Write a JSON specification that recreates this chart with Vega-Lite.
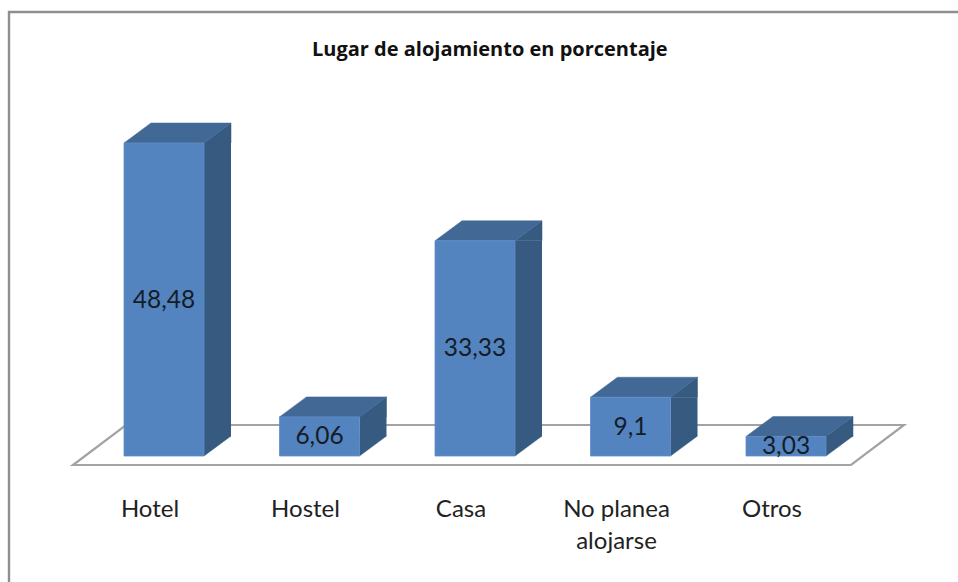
{
"$schema":"https://vega.github.io/schema/vega-lite/v6.json",
"width":958,"height":582,"padding":0,"autosize":{"type":"none"},
"background":"#ffffff",
"view":{"stroke":null},
"title":{"text":"Lugar de alojamiento en porcentaje","font":"Open Sans","fontSize":20,"fontWeight":"bold","color":"#111111","anchor":"start","frame":"group","dx":312,"dy":60,"offset":0},
"data":{"values":[
{"cat":"Hotel","valor":48.48,"etiqueta":"48,48"},
{"cat":"Hostel","valor":6.06,"etiqueta":"6,06"},
{"cat":"Casa","valor":33.33,"etiqueta":"33,33"},
{"cat":"No planea alojarse","valor":9.1,"etiqueta":"9,1"},
{"cat":"Otros","valor":3.03,"etiqueta":"3,03"}
]},
"encoding":{
"x":{"field":"cat","type":"nominal","sort":null,"title":null,
 "scale":{"type":"band","domain":["Hotel","Hostel","Casa","No planea alojarse","Otros"],"range":[86.25,863.75],"paddingInner":0,"paddingOuter":0},
 "axis":{"domain":false,"ticks":false,"labelAngle":0,"offset":-85,"labelPadding":0,"labelOffset":-14,"labelFont":"Lato","labelFontSize":24,"labelColor":"#222222","labelBaseline":"top","labelLineHeight":32,"labelLimit":300,"grid":false,"labelExpr":"datum.label == 'No planea alojarse' ? ['No planea','alojarse'] : datum.label"}},
"y":{"field":"valor","type":"quantitative","title":null,"axis":null,"scale":{"domain":[0,48.48],"range":[456,143],"nice":false,"zero":false}}
},
"layer":[
{"data":{"values":[{"cat":"Hotel","valor":0}]},
 "mark":{"type":"point","shape":"M-155,126L-155,-444L794,-444","size":4,"filled":false,"fill":null,"stroke":"#8f8f8f","strokeWidth":2.4,"opacity":1}},
{"data":{"values":[{"cat":"Casa","valor":0}]},
 "mark":{"type":"point","shape":"M-402,9L376,9L429,-31L-349,-31Z","size":4,"filled":false,"fill":null,"stroke":"#a3a3a3","strokeWidth":2.2,"opacity":1}},
{"mark":{"type":"bar","width":27,"xOffset":53.5,"y2Offset":-20,"color":"#375a80"},
 "encoding":{"y2":{"datum":0}}},
{"mark":{"type":"point","shape":"M40,0L67,-20L40,-20Z","size":4,"filled":true,"fill":"#375a80","stroke":"#375a80","strokeWidth":0.5,"opacity":1},
 "encoding":{"y":{"datum":0,"type":"quantitative"}}},
{"mark":{"type":"point","shape":"M40,0L67,-20L67,0Z","size":4,"filled":true,"fill":"#375a80","stroke":"#375a80","strokeWidth":0.5,"opacity":1}},
{"mark":{"type":"point","shape":"M-40,0L-13,-20L67,-20L40,0Z","size":4,"filled":true,"fill":"#426896","stroke":"#426896","strokeWidth":0.5,"opacity":1}},
{"mark":{"type":"bar","width":80,"color":"#5384bf","stroke":"#5f8fc8","strokeWidth":0.8},
 "encoding":{"y2":{"datum":0}}},
{"transform":[{"calculate":"datum.valor/2","as":"mitad"}],
 "mark":{"type":"text","font":"Lato","fontSize":24.5,"color":"#151c28","align":"center","baseline":"middle","dy":1},
 "encoding":{"y":{"field":"mitad","type":"quantitative"},"text":{"field":"etiqueta","type":"nominal"}}}
]
}
